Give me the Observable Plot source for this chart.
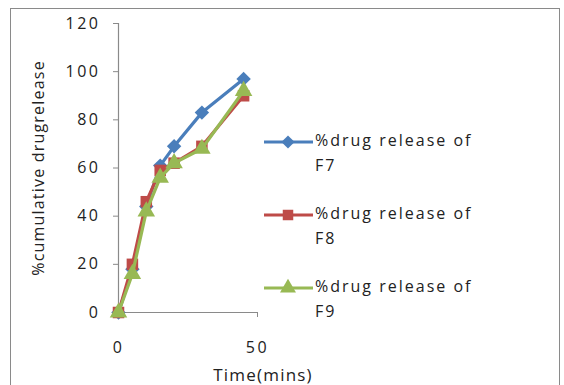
<!DOCTYPE html>
<html>
<head>
<meta charset="utf-8">
<script src="https://cdn.jsdelivr.net/npm/d3@7"></script>
<script src="https://cdn.jsdelivr.net/npm/@observablehq/plot@0.6"></script>
<style>
  html, body { margin: 0; padding: 0; background: #fff; }
  #wrap { position: relative; width: 564px; height: 385px; overflow: hidden; font-family: "Open Sans", sans-serif; }
  #frame { position: absolute; left: 10px; top: 8px; width: 550px; height: 390px; border: 1px solid #8a8a8a; box-sizing: border-box; pointer-events: none; }
  #chart svg text { letter-spacing: 1.2px; }
  #chart svg g[aria-label="y-axis tick label"] text, #chart svg g[aria-label="x-axis tick label"] text { letter-spacing: 2.5px; }
  #legend { position: absolute; left: 264px; top: 128px; }
  .item { position: absolute; left: 0; width: 290px; }
  .item svg { position: absolute; left: 0; top: 0; }
  .item .lbl { position: absolute; left: 51px; top: 0; font-size: 16px; line-height: 25px; color: #222; letter-spacing: 2px; white-space: nowrap; }
</style>
</head>
<body>
<div id="wrap">
  <div id="chart"></div>
  <div id="frame"></div>
  <div id="legend"></div>
</div>
<script>
const times = [0, 5, 10, 15, 20, 30, 45];
const f7 = [0, 18, 44, 61, 69, 83, 97];
const f8 = [0, 20, 46, 59, 62, 69, 90];
const f9 = [0, 16, 42, 56, 62, 68, 92];
const seriesNames = ["%drug release of F7", "%drug release of F8", "%drug release of F9"];
const colors = ["#4A7EBB", "#BE4B48", "#98B954"];
const symbols = ["diamond2", "square", "triangle"];
const yTicks = [0, 20, 40, 60, 80, 100, 120];
const xTicks = [0, 50];

const allSeries = [f7, f8, f9];
const data = [];
allSeries.forEach((vals, s) => vals.forEach((v, i) => data.push({series: seriesNames[s], t: times[i], v})));

const axisColor = "#8a8a8a";
const marks = [];
marks.push(Plot.ruleX([0], {y1: 0, y2: 120, stroke: axisColor, strokeWidth: 1.2}));
marks.push(Plot.ruleY([0], {x1: 0, x2: 50, stroke: axisColor, strokeWidth: 1.2}));
marks.push(Plot.axisY({ticks: yTicks, tickSize: 5, tickPadding: 13, stroke: axisColor, fontSize: 16, fill: "#222", label: null}));
marks.push(Plot.axisX({ticks: xTicks, tickSize: 5, tickPadding: 24, stroke: axisColor, fontSize: 16, fill: "#222", label: null}));
seriesNames.forEach((name, s) => {
  const d = data.filter(r => r.series === name);
  marks.push(Plot.line(d, {x: "t", y: "v", stroke: colors[s], strokeWidth: 3.2}));
  marks.push(Plot.dot(d, {x: "t", y: "v", symbol: () => symbols[s], fill: colors[s], stroke: "none", r: 6.5}));
});

const chart = Plot.plot({
  width: 564,
  height: 385,
  marginLeft: 118,
  marginRight: 307,
  marginTop: 23,
  marginBottom: 73,
  style: {fontFamily: "Open Sans, sans-serif", background: "transparent"},
  x: {domain: [0, 50]},
  y: {domain: [0, 120]},
  marks: [
    ...marks,
    Plot.text(["%cumulative drugrelease"], {frameAnchor: "left", textAnchor: "middle", dx: -80, rotate: -90, fontSize: 16, fill: "#222"}),
    Plot.text(["Time(mins)"], {x: 52, y: 0, dy: 63, fontSize: 17, fill: "#222", textAnchor: "middle"})
  ]
});
document.getElementById("chart").appendChild(chart);

// Legend
const legend = d3.select("#legend");
const rowTops = [0, 73, 146];
seriesNames.forEach((name, s) => {
  const item = legend.append("div").attr("class", "item").style("top", rowTops[s] + "px");
  const svg = item.append("svg").attr("width", 50).attr("height", 30);
  svg.append("line").attr("x1", 0).attr("x2", 49).attr("y1", 14).attr("y2", 14)
    .attr("stroke", colors[s]).attr("stroke-width", 3);
  const sym = {diamond2: d3.symbolDiamond2, square: d3.symbolSquare, triangle: d3.symbolTriangle}[symbols[s]];
  svg.append("path").attr("d", d3.symbol(sym, 110)()).attr("transform", "translate(24,14)").attr("fill", colors[s]);
  const parts = name.split(" of ");
  item.append("div").attr("class", "lbl").html(parts[0] + " of<br>" + parts[1]);
});
</script>
</body>
</html>
